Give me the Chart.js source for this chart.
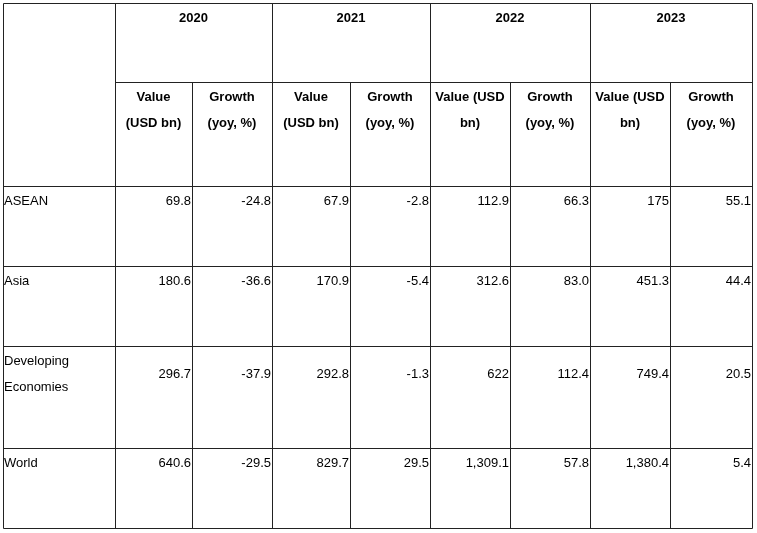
<!DOCTYPE html>
<html>
<head>
<meta charset="utf-8">
<script src="https://cdn.jsdelivr.net/npm/chart.js@4.4.0/dist/chart.umd.min.js"></script>
<style>
  html, body { margin: 0; padding: 0; background: #fff; }
  #wrap { width: 757px; height: 533px; }
</style>
</head>
<body>
<div id="wrap"><canvas id="tbl" width="757" height="533"></canvas></div>
<script>
// Tabel data
const years = ['2020', '2021', '2022', '2023'];
const subHeaders = [['Value', '(USD bn)'], ['Growth', '(yoy, %)']];
const subHeaders2022 = [['Value (USD', 'bn)'], ['Growth', '(yoy, %)']];
const regions = [['ASEAN'], ['Asia'], ['Developing', 'Economies'], ['World']];
const value2020 = [69.8, 180.6, 296.7, 640.6];
const growth2020 = [-24.8, -36.6, -37.9, -29.5];
const value2021 = [67.9, 170.9, 292.8, 829.7];
const growth2021 = [-2.8, -5.4, -1.3, 29.5];
const value2022 = [112.9, 312.6, 622, 1309.1];
const growth2022 = [66.3, 83.0, 112.4, 57.8];
const value2023 = [175, 451.3, 749.4, 1380.4];
const growth2023 = [55.1, 44.4, 20.5, 5.4];

const columns = [value2020, growth2020, value2021, growth2021, value2022, growth2022, value2023, growth2023];

// layout (grid edges in scale units)
const colEdges = [3, 115, 192, 272, 350, 430, 510, 590, 670, 752];
const rowEdges = [3, 82, 186, 266, 346, 448, 528];

function fmtValue(v) {
    return Number.isInteger(v) ? v.toLocaleString('en-US')
        : v.toLocaleString('en-US', { minimumFractionDigits: 1, maximumFractionDigits: 1 });
}
function fmtGrowth(v) {
    return v.toLocaleString('en-US', { minimumFractionDigits: 1, maximumFractionDigits: 1 });
}

const tablePlugin = {
    id: 'tablePlugin',
    afterDraw(chart) {
        const ctx = chart.ctx;
        const sx = chart.scales.x, sy = chart.scales.y;
        const X = v => Math.round(sx.getPixelForValue(v)) + 0.5;
        const Y = v => Math.round(sy.getPixelForValue(v)) + 0.5;
        ctx.save();
        ctx.strokeStyle = '#222';
        ctx.lineWidth = 1;
        ctx.beginPath();
        // vertical lines
        colEdges.forEach((c, i) => {
            // year group lines go full height; inner lines start below year row
            const inner = i > 1 && i < colEdges.length - 1 && i % 2 === 0;
            ctx.moveTo(X(c), Y(inner ? rowEdges[1] : rowEdges[0]));
            ctx.lineTo(X(c), Y(rowEdges[rowEdges.length - 1]));
        });
        // horizontal lines
        rowEdges.forEach((r, i) => {
            const start = i === 1 ? colEdges[1] : colEdges[0];
            ctx.moveTo(X(start), Y(r));
            ctx.lineTo(X(colEdges[colEdges.length - 1]), Y(r));
        });
        ctx.stroke();

        ctx.fillStyle = '#000';
        ctx.textBaseline = 'alphabetic';
        // year headers
        ctx.font = 'bold 13px "Liberation Sans", Arial, sans-serif';
        ctx.textAlign = 'center';
        years.forEach((yr, i) => {
            const cx = (sx.getPixelForValue(colEdges[1 + i * 2]) + sx.getPixelForValue(colEdges[3 + i * 2])) / 2;
            ctx.fillText(yr, cx, sy.getPixelForValue(rowEdges[0] + 19));
        });
        // sub headers
        for (let c = 0; c < 8; c++) {
            const yi = Math.floor(c / 2);
            const set = yi >= 2 ? subHeaders2022 : subHeaders;
            const lines = set[c % 2];
            const cx = (sx.getPixelForValue(colEdges[1 + c]) + sx.getPixelForValue(colEdges[2 + c])) / 2;
            lines.forEach((t, li) => {
                ctx.fillText(t, cx, sy.getPixelForValue(rowEdges[1] + 19 + li * 26));
            });
        }
        // body
        ctx.font = '13px "Liberation Sans", Arial, sans-serif';
        regions.forEach((lines, r) => {
            const top = rowEdges[2 + r];
            ctx.textAlign = 'left';
            lines.forEach((t, li) => {
                ctx.fillText(t, sx.getPixelForValue(colEdges[0] + 1), sy.getPixelForValue(top + 19 + li * 26));
            });
            ctx.textAlign = 'right';
            const valTop = lines.length > 1 ? top + 19 + 13 : top + 19;
            columns.forEach((col, c) => {
                const txt = c % 2 === 0 ? fmtValue(col[r]) : fmtGrowth(col[r]);
                ctx.fillText(txt, sx.getPixelForValue(colEdges[2 + c] - 1), sy.getPixelForValue(valTop));
            });
        });
        ctx.restore();
    }
};

new Chart(document.getElementById('tbl'), {
    type: 'scatter',
    data: { datasets: [{ data: [], pointRadius: 0 }] },
    options: {
        responsive: false,
        animation: false,
        events: [],
        layout: { padding: 0 },
        plugins: { legend: { display: false }, tooltip: { enabled: false } },
        scales: {
            x: { type: 'linear', min: 0, max: 757, display: false },
            y: { type: 'linear', min: 0, max: 533, reverse: true, display: false }
        }
    },
    plugins: [tablePlugin]
});
</script>
</body>
</html>
